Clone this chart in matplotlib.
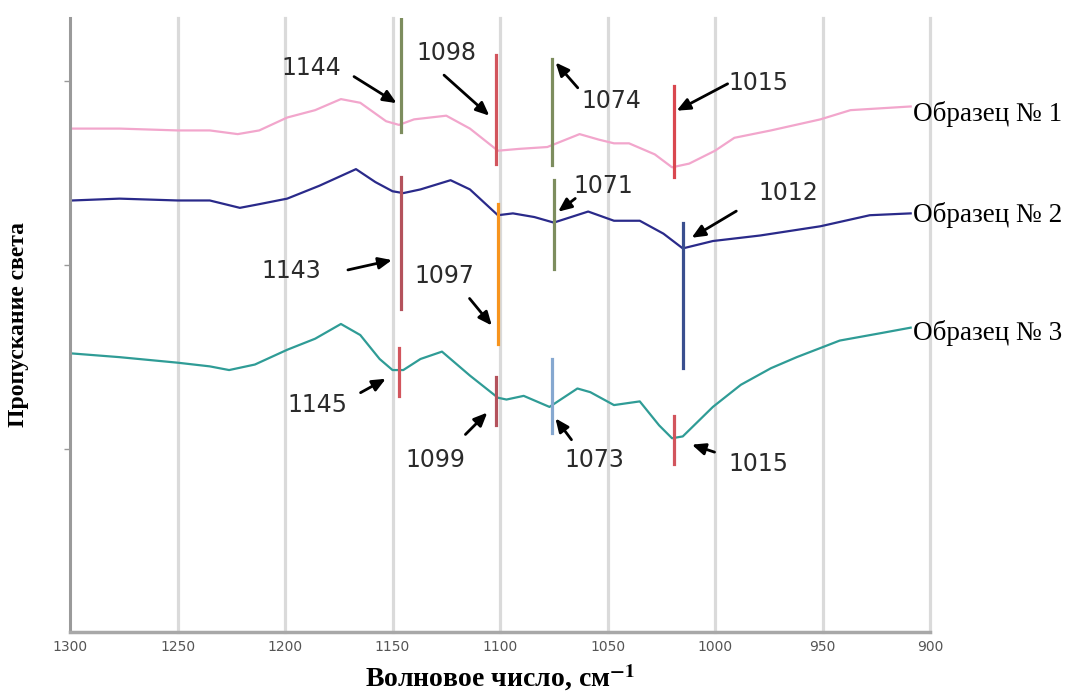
import matplotlib.pyplot as plt

plt.rcParams['mathtext.fontset'] = 'stix'

# wavenumbers (cm-1) and transmission (arb. units)
wn1 = [1299, 1277, 1250, 1235, 1222, 1212, 1199, 1186, 1174, 1165, 1153, 1147,
       1140, 1125, 1114, 1101, 1091, 1078, 1063, 1054, 1047, 1040, 1028, 1020,
       1012, 1000, 991, 974, 951, 937, 923, 909]
s1 = [2.74, 2.74, 2.73, 2.73, 2.71, 2.73, 2.80, 2.84, 2.90, 2.88, 2.78, 2.76,
      2.79, 2.81, 2.74, 2.62, 2.63, 2.64, 2.71, 2.68, 2.66, 2.66, 2.60, 2.53,
      2.55, 2.62, 2.69, 2.73, 2.79, 2.84, 2.85, 2.86]

wn2 = [1299, 1277, 1250, 1235, 1221, 1212, 1199, 1184, 1167, 1158, 1150, 1145,
       1137, 1123, 1114, 1101, 1094, 1084, 1075, 1059, 1047, 1035, 1024, 1015,
       1001, 979, 951, 928, 909]
s2 = [2.35, 2.36, 2.35, 2.35, 2.31, 2.33, 2.36, 2.43, 2.52, 2.45, 2.40, 2.39,
      2.41, 2.46, 2.41, 2.27, 2.28, 2.26, 2.23, 2.29, 2.24, 2.24, 2.17, 2.09,
      2.13, 2.16, 2.21, 2.27, 2.28]

wn3 = [1299, 1277, 1250, 1235, 1226, 1214, 1199, 1186, 1174, 1165, 1156, 1150,
       1145, 1137, 1127, 1114, 1101, 1097, 1089, 1077, 1064, 1058, 1047, 1035,
       1026, 1020, 1015, 1001, 988, 974, 962, 942, 923, 909]
s3 = [1.52, 1.50, 1.47, 1.45, 1.43, 1.46, 1.54, 1.60, 1.68, 1.62, 1.49, 1.43,
      1.43, 1.49, 1.53, 1.40, 1.28, 1.27, 1.29, 1.23, 1.33, 1.31, 1.24, 1.26,
      1.13, 1.06, 1.07, 1.23, 1.35, 1.44, 1.50, 1.59, 1.63, 1.66]

samples = ['Образец № 1', 'Образец № 2', 'Образец № 3']
sample_colors = ['#f2a6cc', '#2a2a8a', '#2f9c96']
sample_label_y = [2.82, 2.27, 1.63]

# peak marker segments: wavenumber, y bottom, y top, colour
mark_x = [1146, 1102, 1076, 1019, 1146, 1101, 1075, 1015, 1147, 1102, 1076, 1019]
mark_y0 = [2.72, 2.55, 2.54, 2.48, 1.76, 1.57, 1.98, 1.44, 1.29, 1.13, 1.09, 0.92]
mark_y1 = [3.34, 3.14, 3.12, 2.97, 2.48, 2.33, 2.46, 2.23, 1.55, 1.39, 1.49, 1.18]
mark_c = ['#7d8d5e', '#d2555d', '#7d8d5e', '#d9474f', '#b4525c', '#f7941d',
          '#7d8d5e', '#3a4f8f', '#d2555d', '#b4525c', '#86a8d0', '#d2555d']

# peak labels: text, text pos, arrow tail, arrow head
peak_txt = ['1144', '1098', '1074', '1015', '1071', '1012',
            '1143', '1097', '1145', '1099', '1073', '1015']
txt_x = [1188, 1125, 1048, 980, 1052, 966, 1197, 1126, 1185, 1130, 1056, 980]
txt_y = [3.07, 3.15, 2.89, 2.99, 2.43, 2.39, 1.97, 1.94, 1.24, 0.94, 0.94, 0.92]
tail_x = [1169, 1127, 1063, 993, 1064, 989, 1172, 1115, 1166, 1117, 1066, 999]
tail_y = [3.03, 3.04, 2.95, 2.99, 2.37, 2.30, 1.97, 1.83, 1.30, 1.07, 1.04, 0.98]
head_x = [1147, 1104, 1075, 1019, 1074, 1012, 1149, 1103, 1152, 1105, 1075, 1012]
head_y = [2.87, 2.80, 3.11, 2.83, 2.28, 2.14, 2.03, 1.66, 1.39, 1.21, 1.18, 1.03]

xticks = [1300, 1250, 1200, 1150, 1100, 1050, 1000, 950, 900]

fig = plt.figure(figsize=(10.69, 6.92), dpi=100)
ax = fig.add_axes([0.0655, 0.087, 0.8045, 0.887])

for xv in xticks[1:]:
    ax.axvline(xv, color='#dadada', lw=2.3, zorder=0, clip_on=False)

for wn, s, c in [(wn1, s1, sample_colors[0]), (wn2, s2, sample_colors[1]),
                 (wn3, s3, sample_colors[2])]:
    ax.plot(wn, s, color=c, lw=1.6, zorder=2)

for x, y0, y1, c in zip(mark_x, mark_y0, mark_y1, mark_c):
    ax.plot([x, x], [y0, y1], color=c, lw=2.3, zorder=3)

for t, tx, ty, ax0, ay0, hx, hy in zip(peak_txt, txt_x, txt_y, tail_x, tail_y,
                                       head_x, head_y):
    ax.text(tx, ty, t, fontsize=17, color='#2b2b2b', ha='center', va='center')
    ax.annotate('', xy=(hx, hy), xytext=(ax0, ay0),
                arrowprops=dict(arrowstyle='-|>,head_length=0.8,head_width=0.35',
                                color='black', lw=2))

for name, y in zip(samples, sample_label_y):
    ax.text(908, y, name, fontsize=19.5, family='Liberation Serif',
            ha='left', va='center', clip_on=False)

ax.set_xlim(1300, 900)
ax.set_ylim(0.01, 3.34)
ax.set_xticks(xticks)
ax.set_xticklabels([str(v) for v in xticks], color='#555555', fontsize=10,
                   family=['Liberation Sans Narrow', 'DejaVu Sans'])
ax.set_yticks([1, 2, 3])
ax.set_yticklabels([])
ax.tick_params(axis='x', length=0, pad=6)
ax.tick_params(axis='y', length=4, color='#999999', width=1)

for side in ['top', 'right']:
    ax.spines[side].set_visible(False)
ax.spines['left'].set_color('#9a9a9a')
ax.spines['left'].set_linewidth(2.2)
ax.spines['bottom'].set_color('#a8a8a8')
ax.spines['bottom'].set_linewidth(2.5)

ax.set_xlabel('Волновое число, см$^{\\mathbf{-1}}$', fontsize=20,
              family='Liberation Serif', fontweight='bold', labelpad=6)
ax.set_ylabel('Пропускание света', fontsize=17, family='Liberation Serif',
              fontweight='bold', labelpad=22)

fig.savefig('out.png', dpi=100)
